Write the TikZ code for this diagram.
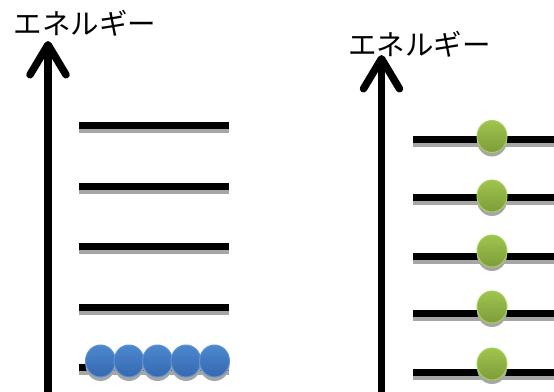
\documentclass[tikz,border=0pt]{standalone}
\usepackage{fontspec}
\newfontfamily\jpfont{Noto Sans CJK JP}
\usetikzlibrary{arrows.meta,shapes.geometric,shadows}
\definecolor{blueball}{HTML}{4C88CE}
\definecolor{bluedark}{HTML}{3568B0}
\definecolor{blueedge}{HTML}{5E94D6}
\definecolor{greenball}{HTML}{9FC44E}
\definecolor{greendark}{HTML}{7E9C3A}
\definecolor{greenedge}{HTML}{A8D05A}
\definecolor{shadowgray}{HTML}{A6A6A6}
\tikzset{
  label text/.style={font=\jpfont\fontsize{28.5}{28.5}\selectfont, inner sep=0pt, anchor=center},
  axis arrow/.style={line width=7.5pt, -{Straight Barb[length=30pt,width=36pt,round]}},
  level line/.style={line width=7pt, black},
  level shadow/.style={line width=7pt, shadowgray},
  ball/.style={ellipse, minimum width=30pt, minimum height=32pt, inner sep=0pt, line width=1pt,
    drop shadow={shadow xshift=0pt, shadow yshift=-4pt, fill=shadowgray, opacity=1}},
  blue ball/.style={ball, draw=blueedge, top color=blueball, bottom color=bluedark},
  green ball/.style={ball, draw=greenedge, top color=greenball, bottom color=greendark},
}
\begin{document}
\begin{tikzpicture}[x=1pt,y=-1pt]
\useasboundingbox (0,0) rectangle (554,391);
\clip (0,0) rectangle (554,391);
% labels
\node[label text] (tl) at (85,23) {エネルギー};
\node[label text] (tr) at (419.5,44.5) {エネルギー};
% axes
\coordinate (la0) at (48,395);
\coordinate (la1) at (48,41);
\coordinate (ra0) at (381.5,395);
\coordinate (ra1) at (381.5,55);
\draw[axis arrow] (la0) -- (la1);
\draw[axis arrow] (ra0) -- (ra1);
% left levels
\foreach \y [count=\i] in {125.5,186,246.5,307,367.5}{
  \coordinate (lA\i) at (79,\y);
  \coordinate (lB\i) at (229,\y);
  \draw[level shadow] ([yshift=-4pt]lA\i) -- ([yshift=-4pt]lB\i);
  \draw[level line] (lA\i) -- (lB\i);
}
% right levels
\foreach \y [count=\i] in {139,197.5,256,313,372}{
  \coordinate (rA\i) at (413,\y);
  \coordinate (rB\i) at (560,\y);
  \draw[level shadow] ([yshift=-4pt]rA\i) -- ([yshift=-4pt]rB\i);
  \draw[level line] (rA\i) -- (rB\i);
}
% blue balls
\foreach \x [count=\i] in {100.5,129,157.5,186,214.5}{
  \node[blue ball] (b\i) at (\x,361) {};
}
% green balls
\foreach \y [count=\i] in {136.5,196,251,307,364}{
  \node[green ball] (g\i) at (492,\y) {};
}
\end{tikzpicture}
\end{document}
